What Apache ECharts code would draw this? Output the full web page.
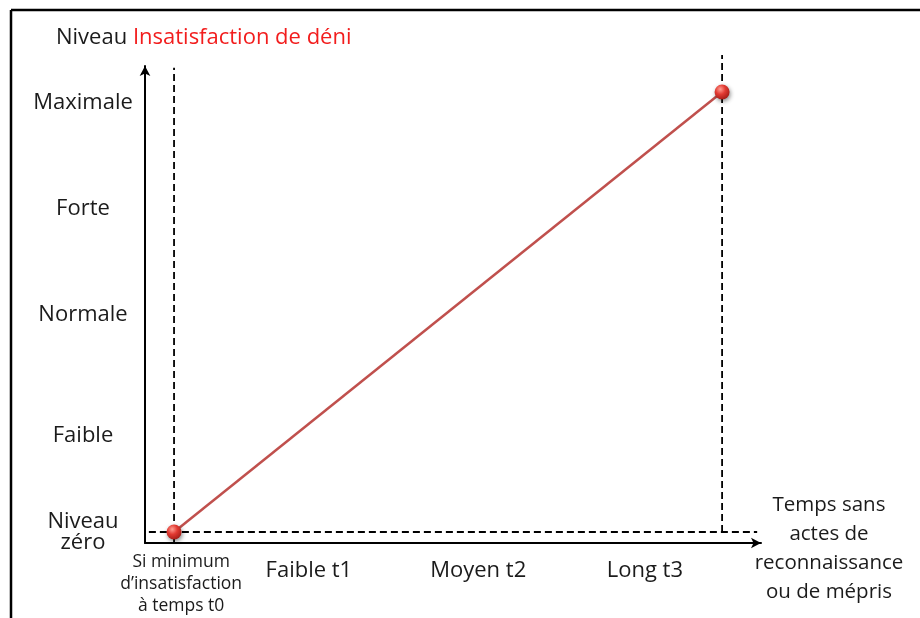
<!DOCTYPE html>
<html>
<head>
<meta charset="utf-8">
<script src="https://cdn.jsdelivr.net/npm/echarts@6/dist/echarts.min.js"></script>
<style>
  html, body { margin: 0; padding: 0; background: #ffffff; }
  #chart { width: 920px; height: 618px; }
</style>
</head>
<body>
<div id="chart"></div>
<script>
// Levels of dissatisfaction (vertical axis) and their positions on the value scale
var levelLabels = ['Niveau\nzéro', 'Faible', 'Normale', 'Forte', 'Maximale'];
var levelTicks = [0, 21.8, 49.3, 73.4, 97.5];

// Time periods without acknowledgement (horizontal axis)
var timeLabels = ['Si minimum\nd\u2019insatisfaction\nà temps t0', 'Faible t1', 'Moyen t2', 'Long t3'];
var timeTicks = [1.3, 24.6, 55.5, 85.9];
var timeAxisName = ['Temps sans', 'actes de', 'reconnaissance', 'ou de mépris'];

// The dissatisfaction curve: from zero at t0 up to the maximum
var curveX = [0, 100];
var curveY = [0, 100];

var X_MIN = -5.3, X_MAX = 107.1;
var Y_MIN = -2.5, Y_MAX = 105.9;

var font = '"Open Sans", "Noto Sans", sans-serif';
var textColor = '#1b1b1b';
var dash = { color: '#000', width: 1.8, type: [7, 4] };

function guide(points) {
  return {
    type: 'line',
    data: points,
    symbol: 'none',
    clip: false,
    silent: true,
    z: 1,
    lineStyle: dash
  };
}

var chart = echarts.init(document.getElementById('chart'), null, { renderer: 'canvas' });

chart.setOption({
  animation: false,
  backgroundColor: '#ffffff',
  title: {
    text: '{a|Niveau }{b|Insatisfaction de déni}',
    left: 51,
    top: 22,
    textStyle: {
      fontWeight: 'normal',
      rich: {
        a: { fontFamily: font, fontSize: 22, fontWeight: 'normal', color: textColor },
        b: { fontFamily: font, fontSize: 22, fontWeight: 'normal', color: '#f21d1d' }
      }
    }
  },
  grid: { left: 145, right: 159, top: 66, bottom: 75 },
  xAxis: {
    type: 'value',
    min: X_MIN,
    max: X_MAX,
    splitLine: { show: false },
    axisTick: { show: false },
    axisLine: {
      show: true,
      onZero: false,
      symbol: ['none', 'arrow'],
      symbolSize: [8, 10],
      lineStyle: { color: '#000', width: 2 }
    },
    axisLabel: {
      customValues: timeTicks,
      margin: 8,
      formatter: function (v) {
        var i = timeTicks.indexOf(v);
        if (i < 0) return '';
        return i === 0 ? '{m|' + timeLabels[i].split('\n').join('}\n{m|') + '}' : '{s|' + timeLabels[i] + '}';
      },
      rich: {
        m: { fontFamily: font, fontSize: 17.5, lineHeight: 22, color: textColor },
        s: { fontFamily: font, fontSize: 22, lineHeight: 40, color: textColor }
      }
    }
  },
  yAxis: {
    type: 'value',
    min: Y_MIN,
    max: Y_MAX,
    splitLine: { show: false },
    axisTick: { show: false },
    axisLine: {
      show: true,
      onZero: false,
      symbol: ['none', 'arrow'],
      symbolSize: [8, 10],
      lineStyle: { color: '#000', width: 2 }
    },
    axisLabel: {
      customValues: levelTicks,
      margin: 62,
      align: 'center',
      fontFamily: font,
      fontSize: 22,
      lineHeight: 21,
      color: textColor,
      formatter: function (v) {
        var i = levelTicks.indexOf(v);
        return i < 0 ? '' : levelLabels[i];
      },
      rich: {}
    }
  },
  graphic: [
    { type: 'line', shape: { x1: 11, y1: 10, x2: 920, y2: 10 }, style: { stroke: '#000', lineWidth: 2.5 }, silent: true },
    { type: 'line', shape: { x1: 11, y1: 10, x2: 11, y2: 618 }, style: { stroke: '#000', lineWidth: 2.5 }, silent: true },
    // name of the time axis, to the right of its arrow
    {
      type: 'text',
      x: 829,
      y: 548.5,
      silent: true,
      style: {
        text: timeAxisName.join('\n'),
        fontFamily: font,
        fontSize: 20.5,
        lineHeight: 29,
        fill: textColor,
        align: 'center',
        verticalAlign: 'middle'
      }
    }
  ],
  series: [
    // dashed reference lines at level zero, at t0 and at the end of the curve
    guide([[-6.6, curveY[0]], [106.4, curveY[0]]]),
    guide([[curveX[0], Y_MIN], [curveX[0], 105.5]]),
    guide([[curveX[1], curveY[0]], [curveX[1], 108.4]]),
    {
      type: 'line',
      data: curveX.map(function (x, i) { return [x, curveY[i]]; }),
      z: 5,
      symbol: 'circle',
      symbolSize: 15,
      lineStyle: { color: '#c0504d', width: 2.5 },
      itemStyle: {
        color: new echarts.graphic.RadialGradient(0.38, 0.32, 0.75, [
          { offset: 0, color: '#ff9d92' },
          { offset: 0.45, color: '#e23a32' },
          { offset: 1, color: '#9e1a14' }
        ]),
        borderWidth: 0,
        shadowBlur: 4,
        shadowColor: 'rgba(0,0,0,0.45)',
        shadowOffsetX: 1,
        shadowOffsetY: 2
      }
    }
  ]
});
</script>
</body>
</html>
